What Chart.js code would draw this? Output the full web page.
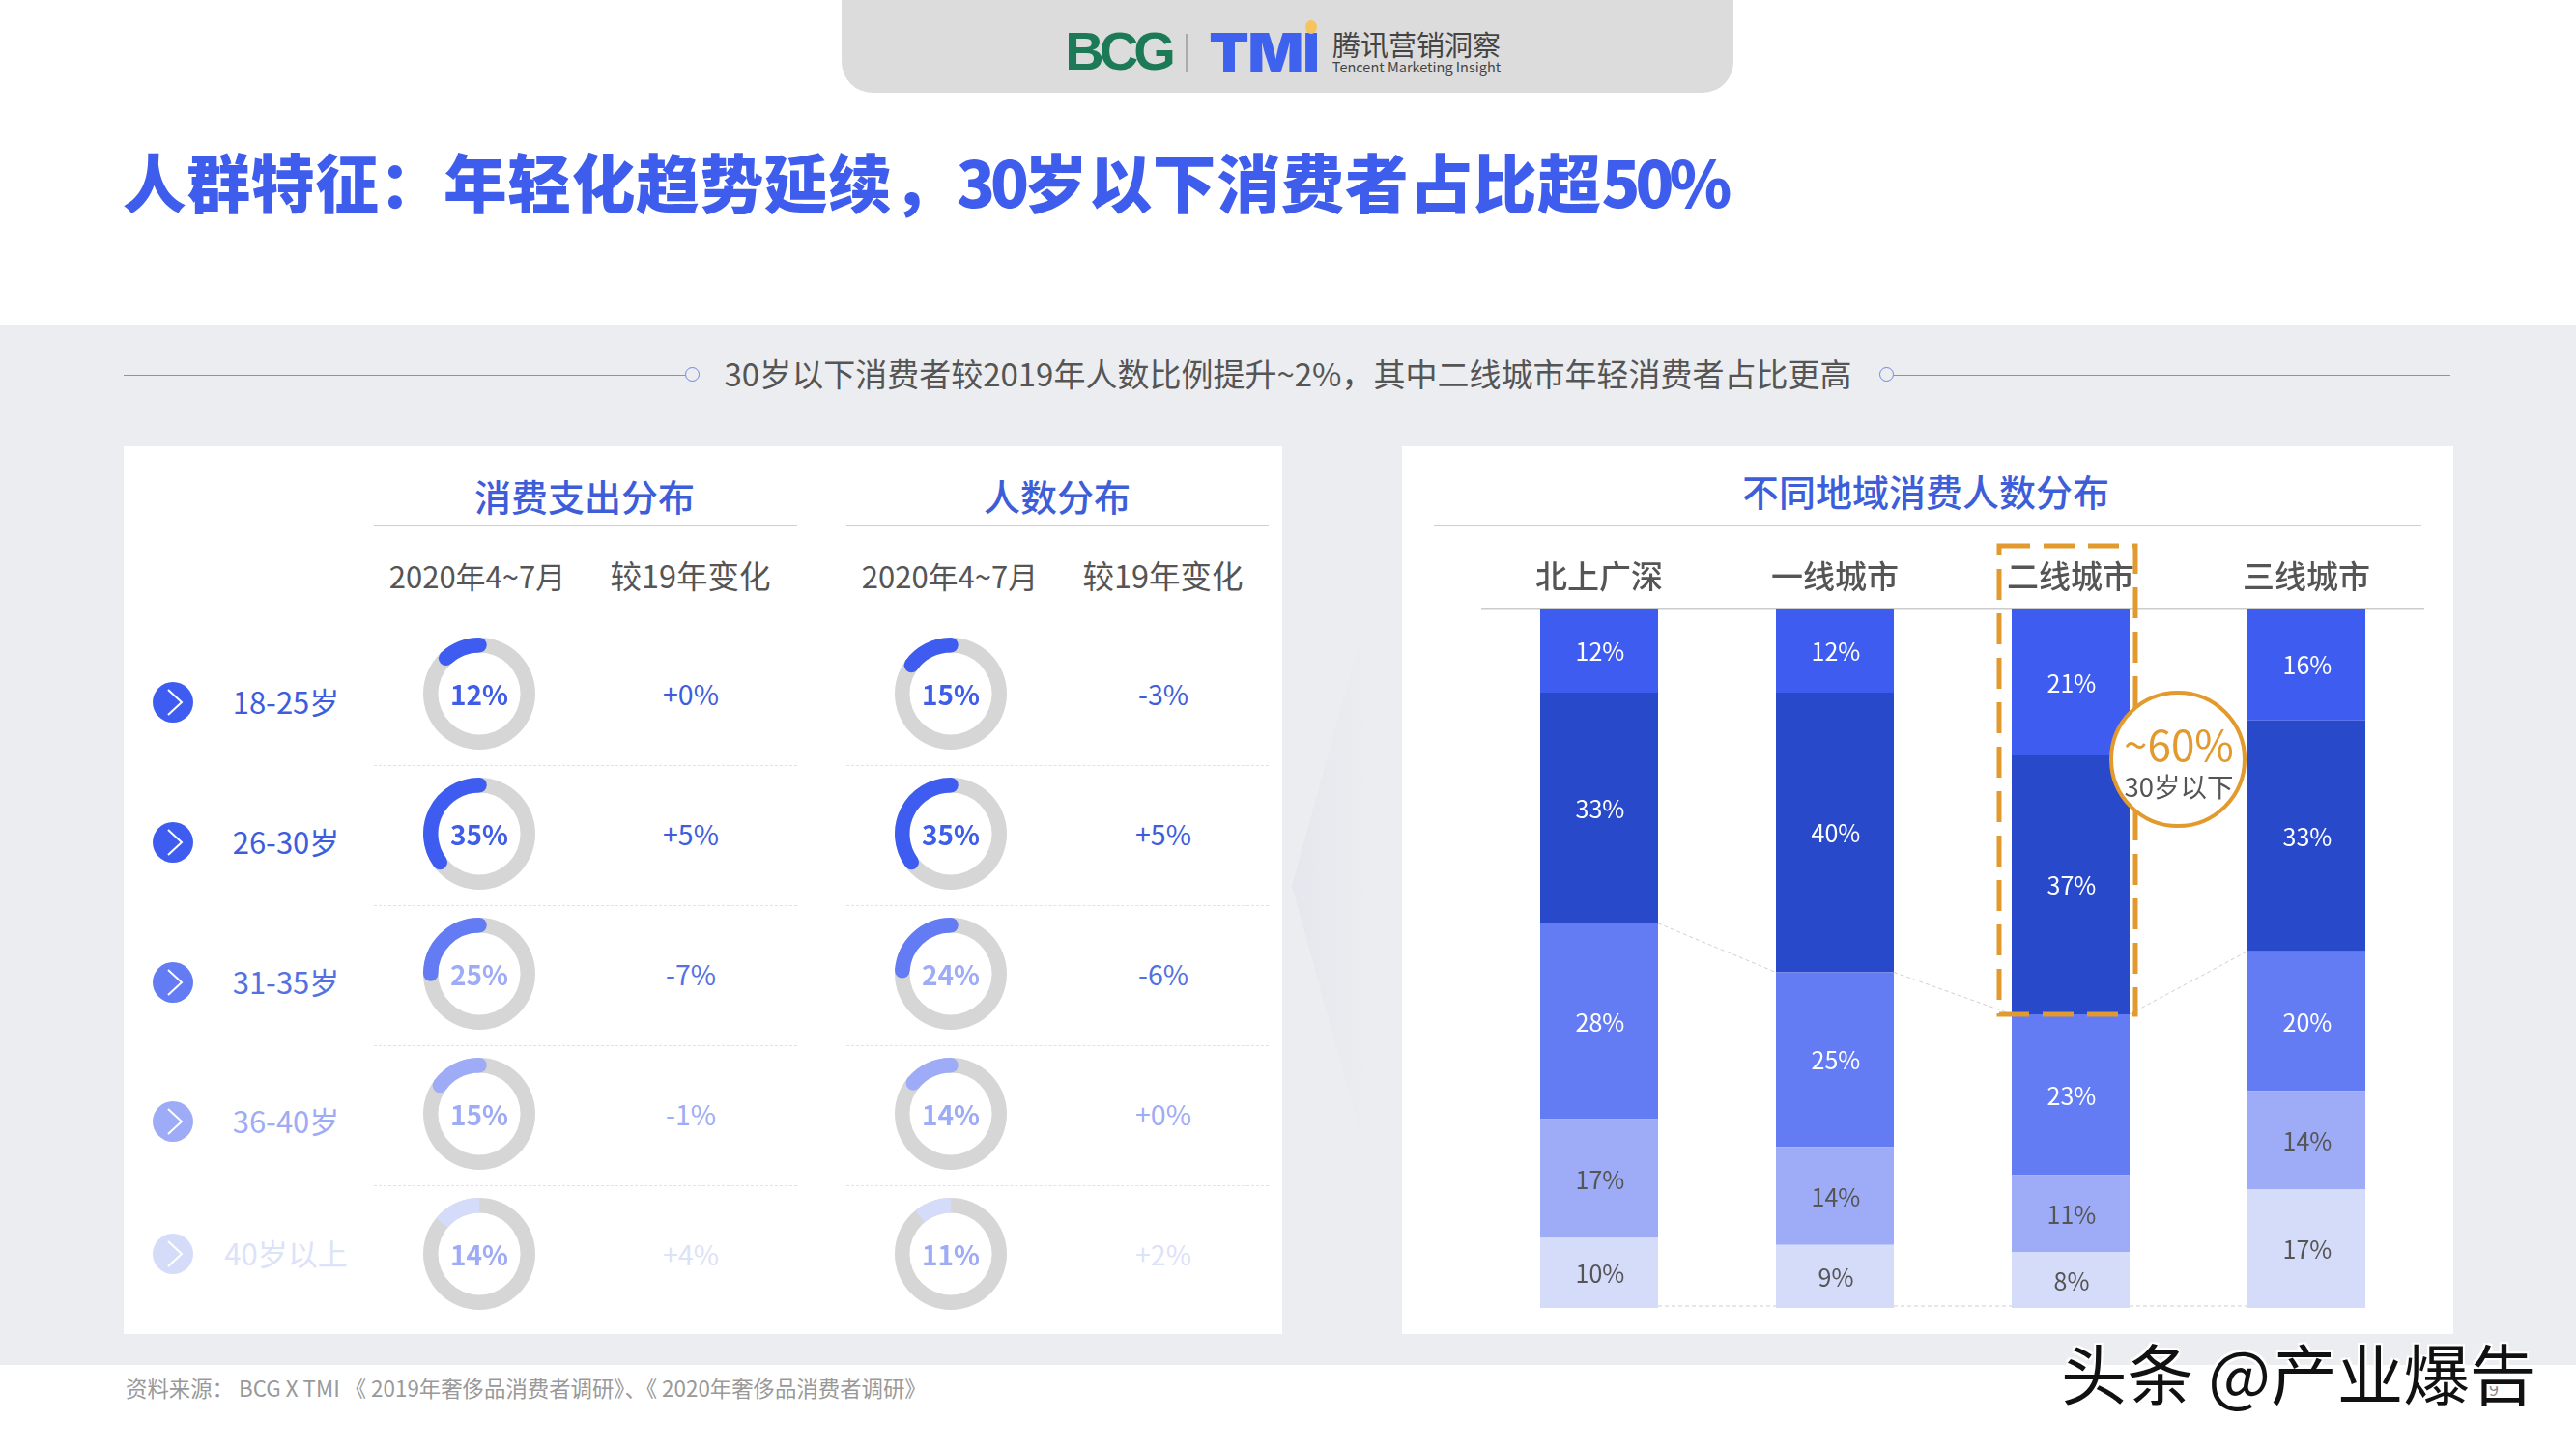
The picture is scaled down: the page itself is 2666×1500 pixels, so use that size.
<!DOCTYPE html>
<html lang="zh">
<head>
<meta charset="utf-8">
<title>人群特征</title>
<script src="https://cdn.jsdelivr.net/npm/chart.js@4/dist/chart.umd.min.js"></script>
<style>
  html, body { margin: 0; padding: 0; background: #fff; }
  #page { position: relative; width: 2666px; height: 1500px; overflow: hidden; background: #fff;
          font-family: "Noto Sans CJK SC", "Noto Sans", sans-serif; }
  .box, .txt, canvas, svg { position: absolute; display: block; }
  .txt { white-space: pre; line-height: 1; }
  .tight { letter-spacing: -5px; }
</style>
</head>
<body>
<div id="page"></div>
<script>
// age groups and their table columns
const ageLabels = ['18-25岁', '26-30岁', '31-35岁', '36-40岁', '40岁以上'];
const spendShare = [12, 35, 25, 15, 14];
const spendChange = ['+0%', '+5%', '-7%', '-1%', '+4%'];
const peopleShare = [15, 35, 24, 14, 11];
const peopleChange = ['-3%', '+5%', '-6%', '+0%', '+2%'];

// regional stacked bars
const cities = ['北上广深', '一线城市', '二线城市', '三线城市'];
const age18to25 = [12, 12, 21, 16];
const age26to30 = [33, 40, 37, 33];
const age31to35 = [28, 25, 23, 20];
const age36to40 = [17, 14, 11, 14];
const age40plus = [10, 9, 8, 17];

const FONT = '"Noto Sans CJK SC", "Noto Sans", sans-serif';
const ageColors = ['#3E5DF0', '#2849C9', '#637BF3', '#9EABF6', '#D5DCF9'];
const ringColors = ['#3E5DF0', '#3E5DF0', '#637BF3', '#9EABF6', '#D5DCF9'];
const ringText = ['#3E5DE8', '#3E5DE8', '#9EABF6', '#9EABF6', '#9EABF6'];
const rowText = ['#3E5DDC', '#3E5DDC', '#5570E0', '#9EABF6', '#DCE2F8'];
const rowY = [718, 863, 1008, 1152.5, 1297.5];
const page = document.getElementById('page');

function box(x, y, w, h, css) {
  const d = document.createElement('div');
  d.className = 'box';
  d.style.cssText = `left:${x}px;top:${y}px;width:${w}px;height:${h}px;${css || ''}`;
  page.appendChild(d);
  return d;
}

function text(str, x, y, size, color, weight, align, css) {
  const d = document.createElement('div');
  d.className = 'txt';
  d.textContent = str;
  const tx = align === 'left' ? '0' : '-50%';
  d.style.cssText = `left:${x}px;top:${y}px;font-size:${size}px;color:${color};font-weight:${weight || 400};transform:translate(${tx},-50%);${css || ''}`;
  page.appendChild(d);
  return d;
}

// backdrop and panels
box(871, 0, 923, 96, 'background:#DCDCDC;border-radius:0 0 32px 32px');
box(0, 336, 2666, 1077, 'background:#ECEDF0');
box(1337, 620, 82, 594, 'background:linear-gradient(to right,#E5E7EE,#ECEDF0);clip-path:polygon(0 50%,100% 0,100% 100%)');
box(128, 462, 1199, 919, 'background:#fff');
box(1451, 462, 1088, 919, 'background:#fff');

// logo strip
text('BCG', 1157, 53, 56, '#1C7A56', 700, 'center', 'font-family:"Liberation Sans";letter-spacing:-5px');
box(1227, 35, 1.5, 40, 'background:#AAA');
text('TMI', 1308, 55, 56, '#3E62EE', 900, 'center', 'font-family:Inter;letter-spacing:-1px;transform:translate(-50%,-50%) scaleX(1.08)');
box(1351, 21, 12, 14, 'background:#F5C45C;border-radius:50%');
text('腾讯营销洞察', 1466, 45, 29, '#444', 400);
text('Tencent Marketing Insight', 1466, 69, 14.5, '#444', 400);

// heading, the digit runs are set tighter than the glyphs around them
const heading = text('', 127, 187, 65.7, '#3E5DEC', 900, 'left', 'letter-spacing:0.7px');
heading.innerHTML = '人群特征：年轻化趋势延续，<span class="tight">30</span>岁以下消费者占比超<span class="tight">50%</span>';
text('30岁以下消费者较2019年人数比例提升~2%，其中二线城市年轻消费者占比更高', 1333, 386, 33, '#555', 400);
box(128, 387.5, 581, 1.5, 'background:#7D90DC');
box(709, 380, 15, 15, 'box-sizing:border-box;border:1.5px solid #6F86DE;border-radius:50%');
box(1945, 380, 15, 15, 'box-sizing:border-box;border:1.5px solid #6F86DE;border-radius:50%');
box(1960, 387.5, 576, 1.5, 'background:#7D90DC');

// left table headers
text('消费支出分布', 605, 513, 38, '#3E5DD8', 500);
text('人数分布', 1094, 513, 38, '#3E5DD8', 500);
box(387, 543, 438, 1.5, 'background:#C4CFE8');
box(876, 543, 437, 1.5, 'background:#C4CFE8');
[[494, 714.5], [983, 1203.5]].forEach(([a, b]) => {
  text('2020年4~7月', a, 594.5, 31, '#555', 400);
  text('较19年变化', b, 594.5, 32.5, '#555', 400);
});
[792, 937, 1081.5, 1226.5].forEach(y => {
  box(387, y, 438, 0, 'border-top:1.5px dashed #E2E2E2');
  box(876, y, 437, 0, 'border-top:1.5px dashed #E2E2E2');
});

// row markers, labels and change values
const chevronY = [727, 872, 1017, 1161, 1298];
const chevronNS = 'http://www.w3.org/2000/svg';
ageLabels.forEach((label, i) => {
  const cy = chevronY[i];
  box(158, cy - 21, 42, 42, `background:${ringColors[i]};border-radius:50%`);
  const svg = document.createElementNS(chevronNS, 'svg');
  svg.setAttribute('width', 42);
  svg.setAttribute('height', 42);
  svg.style.cssText = `left:158px;top:${cy - 21}px`;
  const p = document.createElementNS(chevronNS, 'path');
  p.setAttribute('d', 'M16 8 L30 21 L16 34');
  p.setAttribute('fill', 'none');
  p.setAttribute('stroke', '#fff');
  p.setAttribute('stroke-width', 2);
  svg.appendChild(p);
  page.appendChild(svg);
  text(label, 296, cy - 2, 31, rowText[i], 400);
  text(spendChange[i], 715, rowY[i], 28.5, rowText[i], 400);
  text(peopleChange[i], 1204, rowY[i], 28.5, rowText[i], 400);
});

// gray track, round end caps and the centre value of each ring
const ringPlugin = {
  id: 'ringDecor',
  beforeDatasetsDraw(chart) {
    const arc = chart.getDatasetMeta(0).data[0];
    const c = chart.ctx;
    c.save();
    c.beginPath();
    c.arc(arc.x, arc.y, arc.outerRadius, 0, Math.PI * 2);
    c.arc(arc.x, arc.y, arc.innerRadius, Math.PI * 2, 0, true);
    c.fillStyle = '#D6D6D6';
    c.fill();
    c.restore();
  },
  afterDatasetsDraw(chart, args, opts) {
    const arc = chart.getDatasetMeta(0).data[0];
    const c = chart.ctx;
    const mid = (arc.outerRadius + arc.innerRadius) / 2;
    const capR = (arc.outerRadius - arc.innerRadius) / 2;
    c.save();
    if (opts.caps) {
      c.fillStyle = opts.color;
      [arc.startAngle, arc.endAngle].forEach(a => {
        c.beginPath();
        c.arc(arc.x + Math.cos(a) * mid, arc.y + Math.sin(a) * mid, capR, 0, Math.PI * 2);
        c.fill();
      });
    }
    c.fillStyle = opts.textColor;
    c.font = `700 28px ${FONT}`;
    c.textAlign = 'center';
    c.textBaseline = 'middle';
    c.fillText(opts.label, arc.x, arc.y + 1.5);
    c.restore();
  }
};

function addRing(cx, cy, value, row) {
  const cv = document.createElement('canvas');
  cv.width = 124;
  cv.height = 124;
  cv.style.cssText = `left:${cx - 62}px;top:${cy - 62}px;width:124px;height:124px`;
  page.appendChild(cv);
  new Chart(cv, {
    type: 'doughnut',
    data: {
      labels: ['share', 'rest'],
      datasets: [{
        data: [value, 100 - value],
        backgroundColor: [ringColors[row], 'rgba(0,0,0,0)'],
        borderWidth: 0
      }]
    },
    options: {
      responsive: false,
      animation: false,
      radius: 58,
      cutout: 45.5,
      rotation: -value * 3.6,
      events: [],
      plugins: {
        legend: { display: false },
        tooltip: { enabled: false },
        ringDecor: { caps: row < 4, color: ringColors[row], textColor: ringText[row], label: value + '%' }
      }
    },
    plugins: [ringPlugin]
  });
}

spendShare.forEach((v, i) => addRing(495.5, rowY[i], v, i));
peopleShare.forEach((v, i) => addRing(983.5, rowY[i], v, i));

// right panel
text('不同地域消费人数分布', 1993, 508, 38, '#3E5DD8', 500);
box(1484, 543, 1022, 1.5, 'background:#C4CFE8');

// segment values plus the dotted series lines between the bars
const barDecor = {
  id: 'barDecor',
  beforeDatasetsDraw(chart) {
    const c = chart.ctx;
    const split = chart.getDatasetMeta(3).data;
    const y0 = chart.scales.y.getPixelForValue(0) - 2;
    c.save();
    c.strokeStyle = '#CFCFCF';
    c.lineWidth = 1;
    c.setLineDash([4, 3]);
    for (let i = 0; i < split.length - 1; i++) {
      const a = split[i], b = split[i + 1];
      c.beginPath();
      c.moveTo(a.x + a.width / 2, a.base);
      c.lineTo(b.x - b.width / 2, b.base);
      c.moveTo(a.x + a.width / 2, y0);
      c.lineTo(b.x - b.width / 2, y0);
      c.stroke();
    }
    c.restore();
  },
  afterDatasetsDraw(chart) {
    const c = chart.ctx;
    c.save();
    c.font = `400 25px ${FONT}`;
    c.textAlign = 'center';
    c.textBaseline = 'middle';
    chart.data.datasets.forEach((ds, di) => {
      c.fillStyle = ds.labelColor;
      chart.getDatasetMeta(di).data.forEach((bar, i) => {
        c.fillText(ds.data[i] + '%', bar.x + 1, (bar.y + bar.base) / 2 + 1);
      });
    });
    c.restore();
  }
};

const barCanvas = document.createElement('canvas');
barCanvas.width = 976;
barCanvas.height = 794;
barCanvas.style.cssText = 'left:1533px;top:560px;width:976px;height:794px';
page.appendChild(barCanvas);

new Chart(barCanvas, {
  type: 'bar',
  data: {
    labels: cities,
    datasets: [
      { label: '40岁以上', data: age40plus, backgroundColor: ageColors[4], labelColor: '#555' },
      { label: '36-40岁', data: age36to40, backgroundColor: ageColors[3], labelColor: '#555' },
      { label: '31-35岁', data: age31to35, backgroundColor: ageColors[2], labelColor: '#fff' },
      { label: '26-30岁', data: age26to30, backgroundColor: ageColors[1], labelColor: '#fff' },
      { label: '18-25岁', data: age18to25, backgroundColor: ageColors[0], labelColor: '#fff' }
    ]
  },
  options: {
    responsive: false,
    animation: false,
    events: [],
    datasets: { bar: { barPercentage: 1, categoryPercentage: 0.5 } },
    layout: { padding: 0 },
    scales: {
      x: {
        stacked: true,
        position: 'top',
        afterFit(scale) { scale.height = 70; },
        grid: { display: false },
        border: { display: true, color: '#CCCCCC', width: 1.5 },
        ticks: {
          color: '#555',
          padding: 6,
          maxRotation: 0,
          font: { family: FONT, size: 33, weight: 500 }
        }
      },
      y: { stacked: true, display: false, min: 0, max: 100 }
    },
    plugins: { legend: { display: false }, tooltip: { enabled: false } }
  },
  plugins: [barDecor]
});

// highlight around the second-tier city column
const hl = document.createElementNS(chevronNS, 'svg');
hl.setAttribute('width', 160);
hl.setAttribute('height', 500);
hl.style.cssText = 'left:2060px;top:558px';
const hlRect = document.createElementNS(chevronNS, 'rect');
hlRect.setAttribute('x', 9);
hlRect.setAttribute('y', 7);
hlRect.setAttribute('width', 141);
hlRect.setAttribute('height', 485);
hlRect.setAttribute('fill', 'none');
hlRect.setAttribute('stroke', '#E29A2E');
hlRect.setAttribute('stroke-width', 5);
hlRect.setAttribute('stroke-dasharray', '32 14');
hl.appendChild(hlRect);
page.appendChild(hl);

box(2183, 715, 142, 142, 'box-sizing:border-box;background:#fff;border:4.5px solid #E29A2E;border-radius:50%');
text('~60%', 2255, 769, 44, '#E29A2E', 400);
text('30岁以下', 2255, 814, 27.5, '#555', 400);

// footer
text('资料来源： BCG X TMI 《 2019年奢侈品消费者调研》、《 2020年奢侈品消费者调研》', 130, 1436, 22.4, '#999', 400, 'left');
text('9', 2581, 1437, 18, '#888', 400);
text('头条 @产业爆告', 2133, 1420, 68.5, '#111', 400, 'left',
  'text-shadow:2px 2px 0 #fff,-2px -2px 0 #fff,2px -2px 0 #fff,-2px 2px 0 #fff');
</script>
</body>
</html>
